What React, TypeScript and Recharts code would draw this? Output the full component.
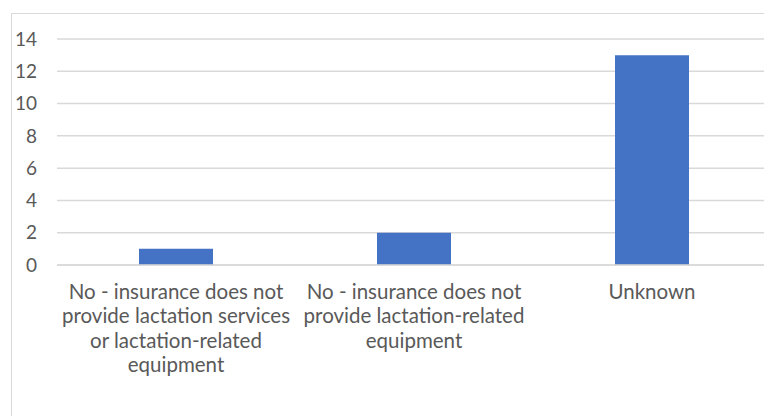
import React from "react";
import { BarChart, Bar, XAxis, YAxis, CartesianGrid } from "recharts";

const categories = [
  "No - insurance does not provide lactation services or lactation-related equipment",
  "No - insurance does not provide lactation-related equipment",
  "Unknown",
];
const categoryLines = [
  ["No - insurance does not", "provide lactation services", "or lactation-related", "equipment"],
  ["No - insurance does not", "provide lactation-related", "equipment"],
  ["Unknown"],
];
const values = [1, 2, 13];
const yTicks = [0, 2, 4, 6, 8, 10, 12, 14];

const data = categories.map((c, i) => ({ name: c, value: values[i] }));

const FONT = "Lato, 'Open Sans', sans-serif";

const XTick = (props: any) => {
  const { x, y, payload } = props;
  const idx = categories.indexOf(payload.value);
  const lines = idx >= 0 ? categoryLines[idx] : [String(payload.value)];
  return (
    <g transform={`translate(${x},${y})`}>
      <text textAnchor="middle" fill="#595959" fontSize={20.5} fontFamily={FONT}>
        {lines.map((l, i) => (
          <tspan key={i} x={0} dy={i === 0 ? 25.5 : 24.5}>
            {l}
          </tspan>
        ))}
      </text>
    </g>
  );
};

export default function App() {
  return (
    <div style={{ position: "absolute", left: 0, top: 0, width: 764, height: 416, overflow: "hidden", background: "#fff" }}>
      <div style={{ position: "absolute", left: 11, top: 13, width: 800, height: 420, border: "1px solid #d9d9d9" }}>
        <BarChart width={800} height={420} data={data} margin={{ top: 25, right: 41, bottom: 69, left: 0 }}>
          <CartesianGrid vertical={false} stroke="#d9d9d9" strokeWidth={1.5} />
          <XAxis
            dataKey="name"
            interval={0}
            height={100}
            axisLine={{ stroke: "#d9d9d9", strokeWidth: 1.5 }}
            tickLine={false}
            tick={<XTick />}
          />
          <YAxis
            width={45}
            domain={[0, 14]}
            ticks={yTicks}
            axisLine={false}
            tickLine={false}
            tickMargin={14}
            tick={{ fill: "#595959", fontSize: 19, fontFamily: FONT }}
          />
          <Bar dataKey="value" fill="#4472C4" barSize={74} isAnimationActive={false} />
        </BarChart>
      </div>
    </div>
  );
}
